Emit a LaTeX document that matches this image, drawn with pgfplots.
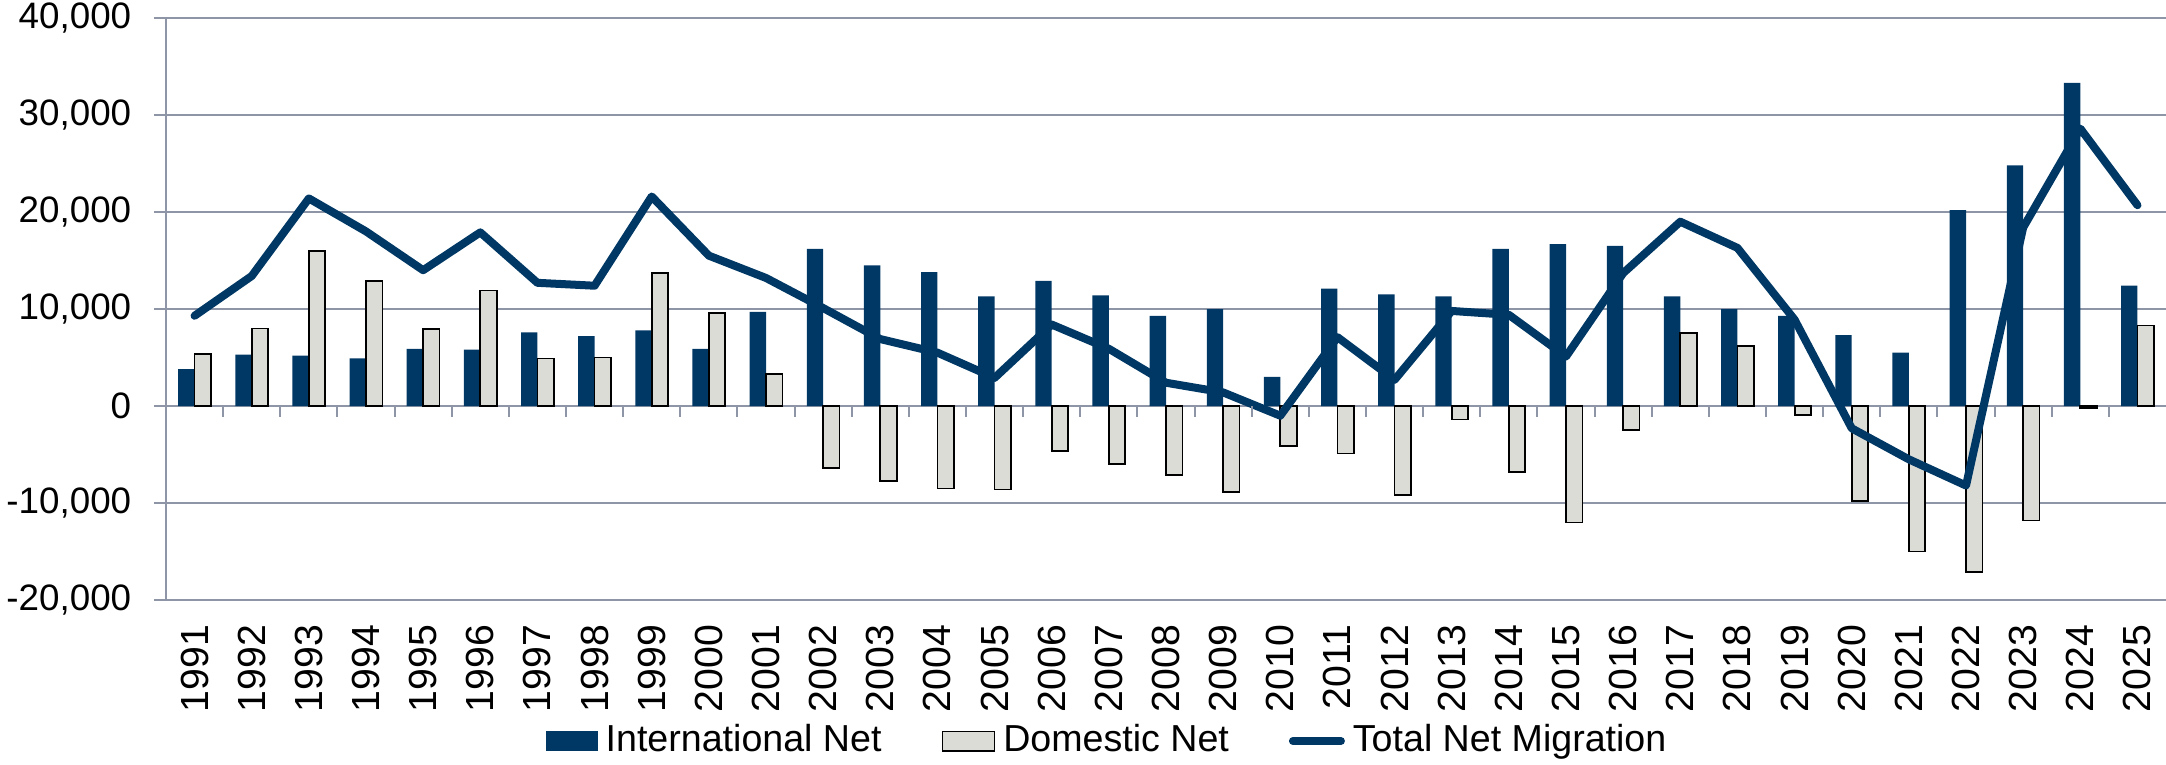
\documentclass[border=0pt]{standalone}
\usepackage{pgfplots}
\usepackage{pgfplotstable}
\pgfplotsset{compat=1.18}
\usepackage{fontspec}
\setmainfont{Liberation Sans}

\definecolor{navy}{RGB}{0,56,101}
\definecolor{domgray}{RGB}{220,220,215}
\definecolor{gridc}{RGB}{141,149,166}

% net migration by year
\pgfplotstableread{
yr   intl   dom    tot
1991 3800   5400   9300
1992 5300   8000   13400
1993 5200   16000  21400
1994 4900   12900  18000
1995 5900   7900   14000
1996 5800   11900  17900
1997 7600   4900   12700
1998 7200   5000   12400
1999 7800   13700  21600
2000 5900   9600   15500
2001 9700   3300   13200
2002 16200  -6400  10100
2003 14500  -7700  6900
2004 13800  -8500  5500
2005 11300  -8600  2900
2006 12900  -4600  8400
2007 11400  -6000  5900
2008 9300   -7100  2400
2009 10000  -8900  1400
2010 3000   -4100  -1000
2011 12100  -4900  7100
2012 11500  -9200  2700
2013 11300  -1400  9800
2014 16200  -6800  9400
2015 16700  -12000 5100
2016 16500  -2500  13700
2017 11300  7500   19000
2018 10000  6200   16300
2019 9300   -900   8900
2020 7300   -9800  -2300
2021 5500   -15000 -5500
2022 20200  -17100 -8200
2023 24800  -11800 18400
2024 33300  -200   28600
2025 12400  8300   20700
}\migr

\begin{document}
\begin{tikzpicture}
\begin{axis}[
  scale only axis, width=500bp, height=145.5bp,
  font=\fontsize{9.2bp}{11bp}\selectfont,
  xmin=-0.5, xmax=34.5, ymin=-20000, ymax=40000,
  ytick={-20000,-10000,0,10000,20000,30000,40000},
  scaled y ticks=false,
  /pgf/number format/1000 sep={,},
  /pgf/number format/assume math mode=true,
  ymajorgrids, grid style={gridc, line width=0.5bp},
  axis y line*=left, axis x line*=bottom,
  y axis line style={gridc, line width=0.5bp, -},
  x axis line style={draw=none},
  tick align=outside,
  ytick style={gridc, line width=0.5bp}, major tick length=3bp,
  yticklabel style={inner sep=0pt}, yticklabel shift=5.5bp,
  xtick={0,...,34}, xtick style={draw=none},
  xticklabels={1991,1992,1993,1994,1995,1996,1997,1998,1999,2000,2001,2002,2003,2004,2005,2006,2007,2008,2009,2010,2011,2012,2013,2014,2015,2016,2017,2018,2019,2020,2021,2022,2023,2024,2025},
  xticklabel style={rotate=90, anchor=east, inner sep=0pt, font=\fontsize{9.8bp}{11bp}\selectfont}, xticklabel shift=3bp,
  legend columns=3,
  legend style={at={(0.472,0)}, anchor=center, yshift=-35.25bp, draw=none, fill=none,
    font=\fontsize{9.4bp}{11bp}\selectfont, inner sep=0pt,
    /tikz/every even column/.append style={column sep=13bp}},
  legend cell align=left,
]
\addplot[ybar, bar width=4.1bp, bar shift=-2.05bp, fill=navy, draw=none,
  legend image code/.code={\fill[navy] (0bp,-2.4bp) rectangle (13bp,2.4bp);}]
  table[x expr=\coordindex, y=intl]{\migr};
\addlegendentry{International Net}
\addplot[ybar, bar width=4.1bp, bar shift=2.05bp, fill=domgray, draw=black, line width=0.45bp,
  legend image code/.code={\draw[fill=domgray, draw=black, line width=0.45bp] (0bp,-2.4bp) rectangle (13bp,2.4bp);}]
  table[x expr=\coordindex, y=dom]{\migr};
\addlegendentry{Domestic Net}
\addplot[sharp plot, navy, line width=2bp, line join=round, line cap=round, mark=none,
  legend image code/.code={\draw[navy, line width=2bp, line cap=round] (1bp,0bp) -- (13bp,0bp);}]
  table[x expr=\coordindex, y=tot]{\migr};
\addlegendentry{Total Net Migration}
\pgfplotsinvokeforeach{1,...,34}{
  \draw[gridc, line width=0.5bp] (axis cs:#1-0.5,0) -- ([yshift=-2.75bp]axis cs:#1-0.5,0);
}
\end{axis}
\pgfresetboundingbox
\path ([xshift=-41.5bp,yshift=-41bp]current axis.south west) rectangle ([yshift=4.5bp]current axis.north east);
\end{tikzpicture}
\end{document}
